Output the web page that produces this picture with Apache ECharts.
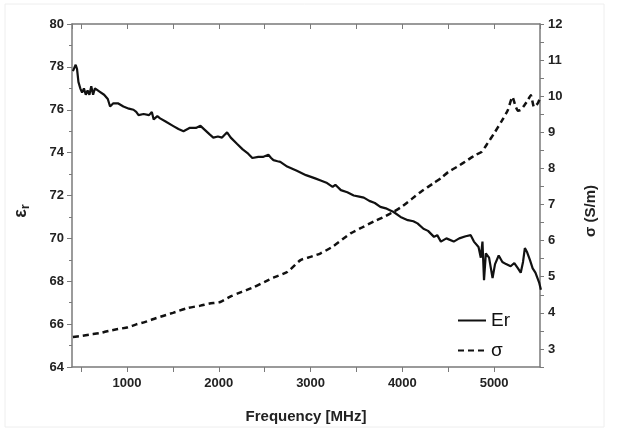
<!DOCTYPE html>
<html>
<head>
<meta charset="utf-8">
<script src="https://cdn.jsdelivr.net/npm/echarts@6/dist/echarts.min.js"></script>
<style>
  html, body { margin: 0; padding: 0; background: #fff; }
  #chart { width: 621px; height: 440px; }
</style>
</head>
<body>
<div id="chart"></div>
<script>
// Er (relative permittivity) readings
var erFreq = [410, 440, 455, 470, 490, 510, 530, 550, 570, 590, 610, 630, 650, 700, 750, 790, 815, 850, 900, 960,
  1020, 1070, 1100, 1125, 1180, 1240, 1270, 1290, 1330, 1360, 1420, 1500, 1560, 1615, 1680, 1750, 1800, 1850, 1900, 1940,
  1990, 2035, 2090, 2130, 2200, 2260, 2320, 2365, 2430, 2480, 2540, 2570, 2595, 2640, 2670, 2745, 2850, 2950, 3050, 3110,
  3180, 3240, 3270, 3330, 3400, 3470, 3530, 3580, 3640, 3700, 3760, 3820, 3870, 3905, 3980, 4060, 4120, 4165, 4230, 4280,
  4345, 4380, 4420, 4480, 4560, 4620, 4690, 4745, 4780, 4830, 4855, 4873, 4890, 4910, 4945, 4965, 4983, 5010, 5050, 5090,
  5130, 5180, 5220, 5260, 5290, 5315, 5335, 5360, 5390, 5420, 5450, 5490, 5510];
var erVals = [77.8, 78.1, 77.9, 77.3, 77.0, 76.8, 77.0, 76.7, 76.9, 76.7, 77.1, 76.7, 77.0, 76.85, 76.7, 76.5, 76.15, 76.3, 76.3, 76.15,
  76.05, 76.0, 75.9, 75.75, 75.8, 75.75, 75.9, 75.55, 75.7, 75.6, 75.45, 75.25, 75.1, 75.0, 75.15, 75.15, 75.25, 75.05, 74.85, 74.7,
  74.75, 74.7, 74.95, 74.7, 74.4, 74.15, 73.95, 73.75, 73.8, 73.8, 73.9, 73.75, 73.65, 73.6, 73.57, 73.35, 73.15, 72.95, 72.8, 72.7,
  72.58, 72.4, 72.5, 72.25, 72.15, 72.0, 71.95, 71.9, 71.75, 71.65, 71.47, 71.4, 71.3, 71.23, 71.0, 70.85, 70.8, 70.7, 70.45, 70.35,
  70.07, 70.15, 69.85, 70.0, 69.85, 70.0, 70.1, 70.15, 69.85, 69.6, 69.1, 69.85, 68.05, 69.3, 69.1, 68.6, 68.15, 68.8, 69.2, 68.9,
  68.8, 68.7, 68.85, 68.6, 68.4, 68.9, 69.55, 69.35, 69.0, 68.6, 68.4, 67.95, 67.6];

// sigma (conductivity) readings
var sigFreq = [410, 500, 600, 705, 800, 900, 1010, 1100, 1200, 1290, 1400, 1500, 1655, 1800, 1900, 2015, 2125, 2200, 2300, 2380,
  2500, 2600, 2745, 2890, 3000, 3110, 3250, 3435, 3550, 3690, 3800, 3905, 4000, 4100, 4200, 4345, 4420, 4500, 4600, 4710,
  4800, 4860, 4930, 5000, 5080, 5150, 5200, 5230, 5260, 5290, 5330, 5370, 5400, 5435, 5475, 5500];
var sigVals = [3.33, 3.36, 3.4, 3.44, 3.5, 3.55, 3.6, 3.68, 3.75, 3.83, 3.92, 4.0, 4.13, 4.2, 4.26, 4.3, 4.45, 4.53, 4.63, 4.71,
  4.86, 4.98, 5.13, 5.46, 5.55, 5.65, 5.85, 6.2, 6.35, 6.53, 6.66, 6.8, 6.95, 7.15, 7.35, 7.6, 7.73, 7.9, 8.05, 8.23,
  8.38, 8.45, 8.7, 8.97, 9.3, 9.62, 9.98, 9.75, 9.6, 9.62, 9.75, 9.9, 10.03, 9.7, 9.8, 9.95];

var font = "'Liberation Sans', Arial, sans-serif";
var chart = echarts.init(document.getElementById('chart'));

function pairs(xs, ys) {
  return xs.map(function (x, i) { return [x, ys[i]]; });
}

var labelStyle = { color: '#222', fontWeight: 'bold', fontSize: 13, fontFamily: font };
var axisLine = { show: true, lineStyle: { color: '#7a7a7a', width: 1.5 } };

var option = {
  backgroundColor: '#fff',
  animation: false,
  grid: { left: 72, right: 81, top: 24, bottom: 73 },
  legend: {
    orient: 'vertical',
    left: 452,
    top: 306,
    itemWidth: 28,
    itemHeight: 14,
    itemGap: 11,
    itemStyle: { opacity: 0 },
    textStyle: { color: '#111', fontSize: 19, fontFamily: font },
    data: ['Er', 'σ']
  },
  xAxis: [{
    type: 'value',
    min: 400,
    max: 5500,
    splitNumber: 10,
    position: 'bottom',
    axisLine: axisLine,
    axisTick: { show: true, inside: false, length: 5, lineStyle: { color: '#7a7a7a' } },
    axisLabel: Object.assign({
      margin: 10,
      showMinLabel: false,
      showMaxLabel: false,
      formatter: function (v) { return v % 1000 === 0 ? String(v) : ''; }
    }, labelStyle),
    splitLine: { show: false }
  }, {
    type: 'value',
    min: 400,
    max: 5500,
    splitNumber: 10,
    position: 'top',
    axisLine: axisLine,
    axisTick: { show: true, inside: true, length: 5, lineStyle: { color: '#7a7a7a' } },
    axisLabel: { show: false },
    splitLine: { show: false }
  }],
  yAxis: [{
    type: 'value',
    min: 64,
    max: 80,
    interval: 2,
    position: 'left',
    axisLine: axisLine,
    axisTick: { show: true, inside: false, length: 5, lineStyle: { color: '#7a7a7a' } },
    minorTick: { show: true, splitNumber: 2, length: 3, lineStyle: { color: '#7a7a7a' } },
    axisLabel: Object.assign({ margin: 8 }, labelStyle),
    splitLine: { show: false }
  }, {
    type: 'value',
    min: 2.5,
    max: 12,
    interval: 0.5,
    position: 'right',
    axisLine: axisLine,
    axisTick: { show: true, inside: false, length: 4, lineStyle: { color: '#7a7a7a' } },
    axisLabel: Object.assign({
      margin: 8,
      formatter: function (v) { return v % 1 === 0 ? String(v) : ''; }
    }, labelStyle),
    splitLine: { show: false }
  }],
  series: [{
    name: 'Er',
    type: 'line',
    xAxisIndex: 0,
    yAxisIndex: 0,
    symbol: 'none',
    data: pairs(erFreq, erVals),
    lineStyle: { color: '#111', width: 2.2 },
    itemStyle: { color: '#111' }
  }, {
    name: 'σ',
    type: 'line',
    xAxisIndex: 0,
    yAxisIndex: 1,
    symbol: 'none',
    smooth: 0.2,
    data: pairs(sigFreq, sigVals),
    lineStyle: { color: '#111', width: 2.5, type: [6, 4] },
    itemStyle: { color: '#111' }
  }],
  graphic: [{
    type: 'rect',
    shape: { x: 5, y: 4, width: 599, height: 423 },
    style: { fill: 'none', stroke: '#eeeeee', lineWidth: 1 },
    silent: true
  }, {
    type: 'text',
    x: 306,
    y: 417,
    style: {
      text: 'Frequency [MHz]', fill: '#222', font: 'bold 15px ' + font,
      align: 'center', verticalAlign: 'middle'
    }
  }, {
    type: 'text',
    x: 21,
    y: 211,
    rotation: Math.PI / 2,
    style: {
      text: '{a|ε}{b|r}',
      align: 'center',
      verticalAlign: 'middle',
      rich: {
        a: { fontSize: 18, fontFamily: font, fontWeight: 'bold', fill: '#222' },
        b: { fontSize: 13, fontFamily: font, fontWeight: 'bold', fill: '#222', padding: [8, 0, 0, 0] }
      }
    }
  }, {
    type: 'text',
    x: 591,
    y: 211,
    rotation: Math.PI / 2,
    style: {
      text: 'σ (S/m)', fill: '#222', font: 'bold 15px ' + font,
      align: 'center', verticalAlign: 'middle'
    }
  }]
};

chart.setOption(option);
</script>
</body>
</html>
